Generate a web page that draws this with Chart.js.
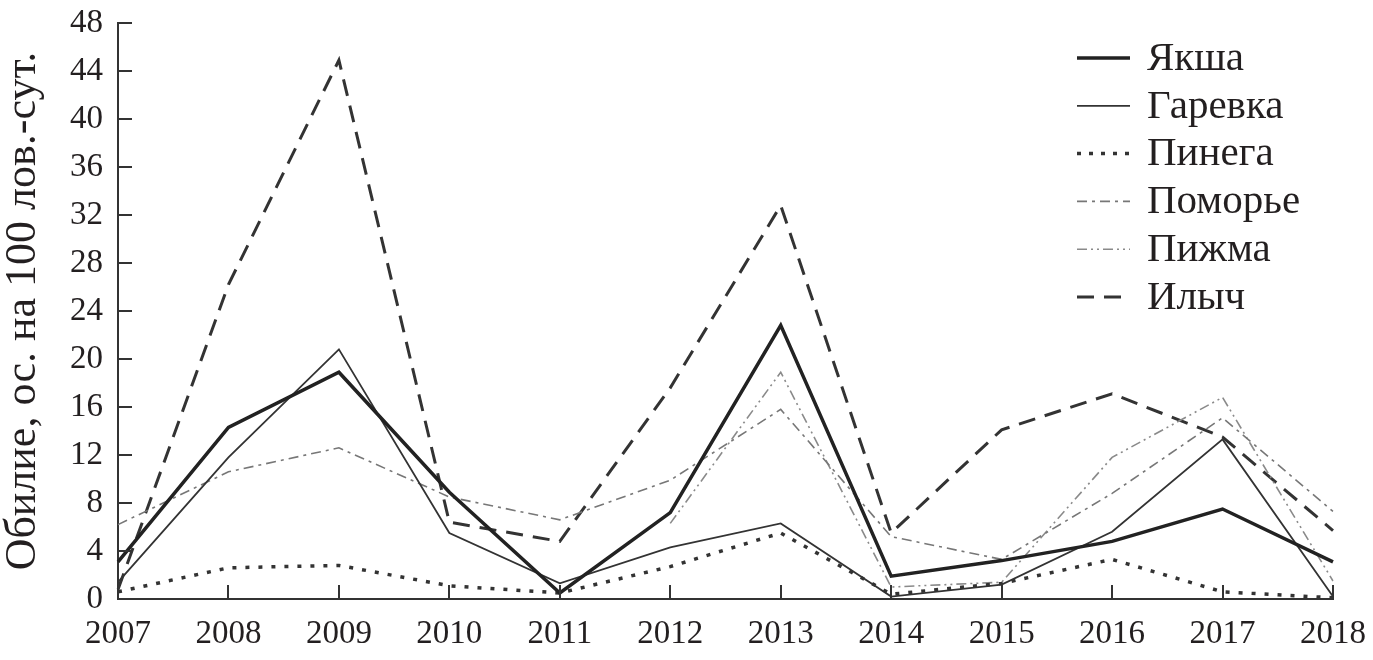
<!DOCTYPE html>
<html>
<head>
<meta charset="utf-8">
<script src="https://cdn.jsdelivr.net/npm/chart.js@4"></script>
<style>
  html, body { margin: 0; padding: 0; background: #fff; }
  #wrap { width: 1373px; height: 660px; }
</style>
</head>
<body>
<div id="wrap"><canvas id="chart" width="1373" height="660"></canvas></div>
<script>
const years = ["2007", "2008", "2009", "2010", "2011", "2012", "2013", "2014", "2015", "2016", "2017", "2018"];
const yTicks = [0, 4, 8, 12, 16, 20, 24, 28, 32, 36, 40, 44, 48];

const yaksha = [3.1, 14.3, 18.9, 8.9, 0.5, 7.2, 22.8, 1.9, 3.2, 4.8, 7.5, 3.1];
const garevka = [1.4, 11.8, 20.8, 5.5, 1.3, 4.3, 6.3, 0.2, 1.2, 5.6, 13.3, 0.2];
const pinega = [0.6, 2.6, 2.8, 1.1, 0.5, 2.7, 5.5, 0.4, 1.3, 3.3, 0.6, 0.1];
const pomorye = [6.2, 10.6, 12.6, 8.5, 6.6, 9.9, 15.8, 5.2, 3.3, 8.8, 15.1, 7.3];
const pizhma = [null, null, null, null, null, 6.3, 18.9, 1.0, 1.4, 11.8, 16.8, 1.5];
const ilych = [0.8, 26.2, 44.9, 6.4, 4.8, 17.6, 32.8, 5.5, 14.1, 17.1, 13.5, 5.7];

const FONT = "'Liberation Serif', 'DejaVu Serif', serif";
const TEXT = "#231f20";

// inward ticks on both axes
const innerTicks = {
  id: "innerTicks",
  afterDraw(chart) {
    const ctx = chart.ctx;
    const x = chart.scales.x, y = chart.scales.y;
    ctx.save();
    ctx.strokeStyle = "#333";
    ctx.lineWidth = 2;
    ctx.beginPath();
    yTicks.forEach(v => {
      const py = Math.round(y.getPixelForValue(v));
      ctx.moveTo(x.left, py);
      ctx.lineTo(x.left + 14, py);
    });
    years.forEach((yr, i) => {
      if (i === 0) return;
      const px = Math.round(x.getPixelForValue(i));
      ctx.moveTo(px, y.bottom);
      ctx.lineTo(px, y.bottom - 14);
    });
    ctx.stroke();
    ctx.restore();
  }
};

// legend inside plot, top right
const insideLegend = {
  id: "insideLegend",
  afterDraw(chart) {
    const ctx = chart.ctx;
    ctx.save();
    chart.data.datasets.forEach((ds, i) => {
      const ly = 58 + i * 47.8;
      ctx.beginPath();
      ctx.strokeStyle = ds.borderColor;
      ctx.lineWidth = ds.borderWidth;
      ctx.setLineDash(ds.legendDash || ds.borderDash || []);
      ctx.moveTo(1077, ly);
      ctx.lineTo(1130, ly);
      ctx.stroke();
      ctx.setLineDash([]);
      ctx.fillStyle = TEXT;
      ctx.font = "41px " + FONT;
      ctx.textBaseline = "middle";
      ctx.fillText(ds.label, 1147, ly + 1);
    });
    ctx.restore();
  }
};

new Chart(document.getElementById("chart"), {
  type: "line",
  data: {
    labels: years,
    datasets: [
      { label: "Якша", data: yaksha, borderColor: "#222", borderWidth: 3.5 },
      { label: "Гаревка", data: garevka, borderColor: "#333", borderWidth: 1.8 },
      { label: "Пинега", data: pinega, borderColor: "#333", borderWidth: 3.5, borderDash: [4, 9], legendDash: [4, 8] },
      { label: "Поморье", data: pomorye, borderColor: "#777", borderWidth: 1.6, borderDash: [10, 5, 3, 5] },
      { label: "Пижма", data: pizhma, borderColor: "#8a8a8a", borderWidth: 1.6, borderDash: [10, 4, 2, 4, 2, 4] },
      { label: "Илыч", data: ilych, borderColor: "#333", borderWidth: 3, borderDash: [17, 10] }
    ]
  },
  options: {
    responsive: false,
    animation: false,
    events: [],
    layout: { padding: { top: 23, right: 40, bottom: 0, left: 0 } },
    elements: {
      line: { tension: 0, fill: false, borderCapStyle: "butt" },
      point: { radius: 0 }
    },
    plugins: {
      legend: { display: false },
      tooltip: { enabled: false }
    },
    scales: {
      x: {
        type: "category",
        offset: false,
        grid: { display: false },
        border: { display: true, color: "#333", width: 2 },
        ticks: {
          color: TEXT,
          font: { family: FONT, size: 33 },
          padding: 8,
          maxRotation: 0,
          autoSkip: false
        },
        afterFit(scale) {
          scale.height = 61;
          scale.paddingLeft = 0;
          scale.paddingRight = 0;
        }
      },
      y: {
        min: 0,
        max: 48,
        grid: { display: false },
        border: { display: true, color: "#333", width: 2 },
        afterBuildTicks(scale) { scale.ticks = yTicks.map(v => ({ value: v })); },
        ticks: {
          color: TEXT,
          font: { family: FONT, size: 33 },
          padding: 7
        },
        title: {
          display: true,
          text: "Обилие, ос. на 100 лов.-сут.",
          color: TEXT,
          font: { family: FONT, size: 44, lineHeight: 1 },
          padding: { top: 1, bottom: 0 }
        },
        afterFit(scale) {
          scale.width = 118;
          scale.paddingTop = 0;
          scale.paddingBottom = 0;
        }
      }
    }
  },
  plugins: [innerTicks, insideLegend]
});
</script>
</body>
</html>
